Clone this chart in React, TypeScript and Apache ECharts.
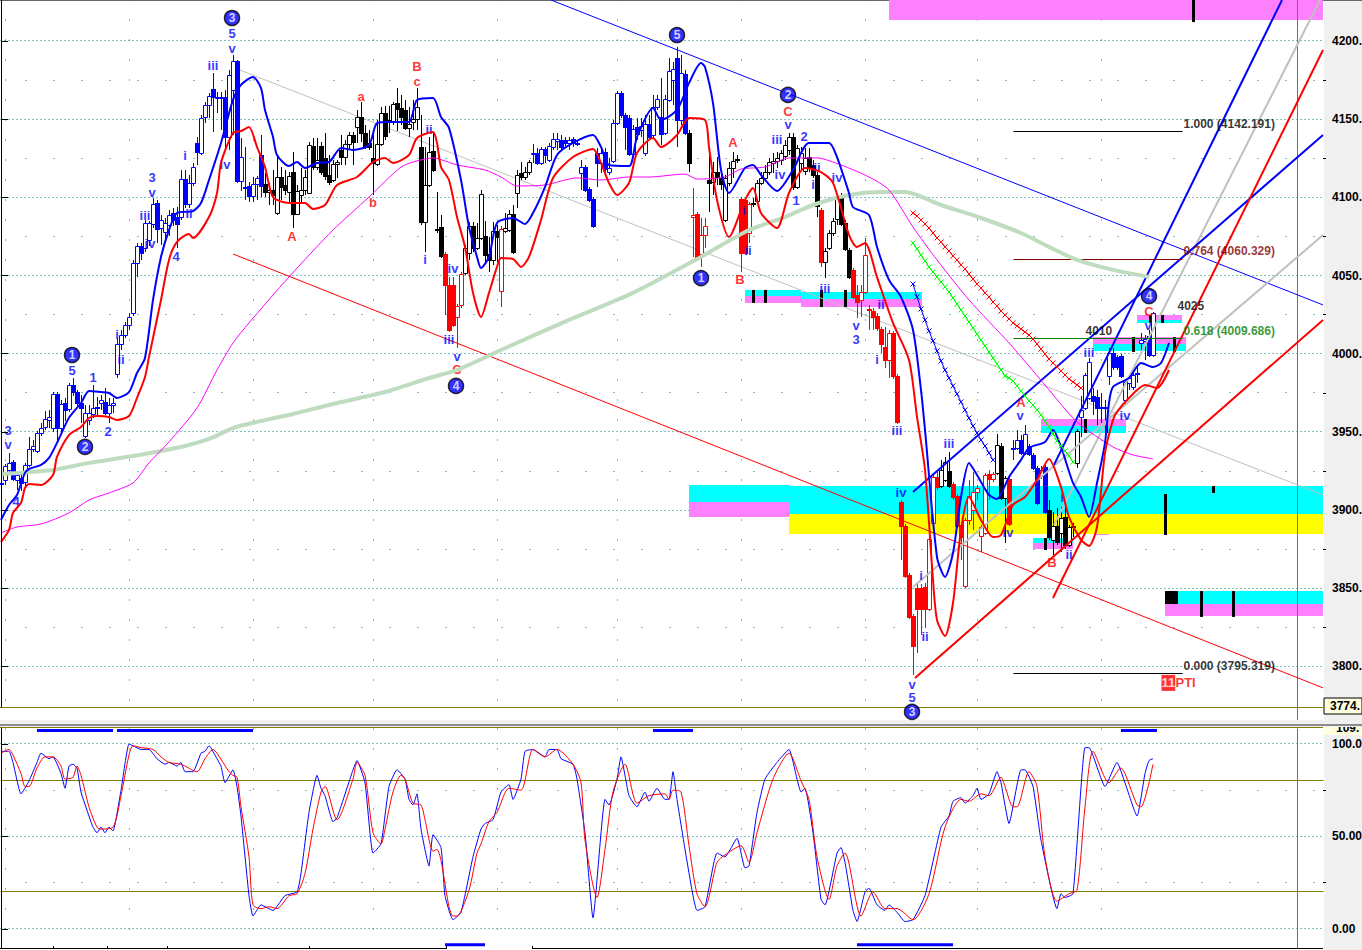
import React, { useEffect, useRef } from "react";
import * as echarts from "echarts";

const BLUE = "#0000ff", RED = "#ff0000", BLACK = "#000000", MAGENTA = "#ff00ff", SAGE = "#c0dcc0", GREY = "#c0c0c0";
const CYAN = "#00ffff", YELLOW = "#ffff00", PINK = "#ff80ff", OLIVE = "#808000", TEAL = "#008080", LIME = "#00ff00";
const FONT = "'Liberation Sans', Arial, sans-serif";

// [body top, body bottom, high, low, hollow]
const candleRows: number[][] = [
[3917.6,3917.2,3920,3915.4,0],[3928.2,3919.3,3929.5,3916,1],[3930.2,3925.7,3936.6,3924.4,1],[3930.8,3920,3932.1,3918.7,0],[3922.5,3919.3,3923.8,3913,1],
[3920.6,3917.4,3923.8,3912.3,0],[3928.9,3918,3930.2,3914.8,1],[3939.1,3928.9,3946.8,3927.6,1],[3941,3939.1,3944.9,3937.2,1],[3949.3,3937.8,3950.6,3936.6,1],
[3952.5,3949.3,3955.7,3947.4,1],[3958.3,3953.2,3963.4,3951.3,1],[3959.6,3957.7,3964,3952.5,1],[3974.3,3952.5,3975.5,3950,1],[3974.3,3952.5,3975.5,3943,0],
[3967.9,3952.5,3970.4,3950,1],[3968.5,3964,3971.7,3957,0],[3980,3964.7,3981.3,3962.8,1],[3980,3975.5,3984.5,3973,0],[3975.5,3968.5,3976.8,3966.6,0],
[3968.5,3965.3,3973.6,3955.7,0],[3962.1,3947.4,3967.2,3946.1,1],[3962.1,3957.7,3967.2,3954.4,1],[3965.3,3961.5,3980,3959,1],[3966,3965.3,3972.3,3960.8,0],
[3970.4,3968.5,3973.6,3964,1],[3969.2,3962.1,3978.1,3960.8,0],[3967.2,3962.1,3971.7,3955.7,1],[3968.5,3967.2,3971.7,3962.1,1],[4006.2,3987,4010,3984.5,1],
[4012,4006.2,4015.2,4002.4,1],[4018.4,4012,4020.3,4010,1],[4023.5,4018.4,4026,4015.2,1],[4058,4026,4060,4024.1,1],[4068.9,4058,4070.8,4049.1,1],
[4068.9,4064.4,4070.8,4060,0],[4083.6,4067.6,4085.5,4065,1],[4083.6,4072.7,4084.9,4068.9,1],[4095.8,4083,4099.6,4080.4,1],[4096.4,4079.8,4098.3,4070.8,0],
[4085.5,4080.4,4088.7,4069.5,1],[4083.6,4077.9,4086.8,4072.7,1],[4088.7,4082.3,4091.9,4075.3,1],[4090,4085.5,4093.2,4081.7,0],[4087.4,4083,4093.8,4067.6,0],
[4111.7,4087.4,4117.5,4085.5,1],[4111.7,4095.8,4117.5,4093.2,0],[4109.2,4095.8,4114.3,4093.2,1],[4119.4,4109.2,4122,4107.3,1],[4134.8,4129,4138.6,4120.7,0],
[4150.8,4128.4,4152.7,4127.1,1],[4159,4151.4,4161,4147.5,1],[4164.8,4159,4166.7,4150.8,1],[4169.3,4164.2,4179.5,4141.8,0],[4164.2,4163.5,4167.4,4154,1],
[4164.2,4163.5,4167.4,4143,1],[4164.2,4138.6,4168.7,4131.5,0],[4178.2,4138.6,4181.4,4130.3,1],[4187.2,4168.7,4191,4140,1],[4187.2,4110.5,4187.8,4109.2,0],
[4125.8,4110.5,4138,4104,1],[4106.4,4105.8,4132.2,4098.3,0],[4107.2,4100.9,4109.8,4097,0],[4108.5,4100.9,4113,4097,1],[4112.4,4108.5,4113.7,4098.3,1],
[4127.1,4107.3,4139.9,4100.2,0],[4108.5,4103.4,4115.6,4100.2,0],[4104.7,4103.4,4109.2,4095.1,1],[4104.7,4101.5,4117.5,4095.1,0],[4113,4090,4125.8,4088.7,1],
[4113,4106.6,4119.4,4098.3,0],[4107.9,4104.7,4117.5,4101.5,0],[4113.7,4103.4,4116.2,4097,1],[4116.2,4089.4,4129,4080.4,0],[4104,4089.4,4107.9,4088.7,1],
[4104.7,4101.5,4118.8,4096.4,1],[4113,4104.7,4117.5,4101.5,1],[4133.5,4102.8,4135.4,4102.2,1],[4132.8,4119.4,4138,4117.5,0],[4123.9,4119.4,4138,4117.5,1],
[4132.8,4116.2,4135.4,4114.3,0],[4125.2,4113.7,4141.2,4111,0],[4114.3,4109.8,4127.1,4107.9,0],[4121.3,4111,4123.9,4109.8,1],[4122.6,4121.3,4123.9,4112.4,1],
[4130.3,4125.8,4139.9,4120.7,0],[4134.1,4125.8,4136.7,4120.7,1],[4139.9,4134.1,4141.8,4130.3,1],[4139.9,4135.4,4141.8,4120.7,0],[4151.4,4145,4155.9,4134.8,1],
[4151.4,4141.2,4161,4135.4,0],[4141.2,4132.2,4146.3,4130.9,0],[4134.8,4132.2,4143,4130.3,0],[4125.2,4122,4141.2,4101.5,0],[4134.1,4121.3,4149.5,4120,1],
[4154,4134.1,4157.8,4132.8,1],[4154,4139.3,4158.4,4136.7,0],[4149.5,4148.2,4158.4,4141.2,1],[4159.7,4148.2,4161,4146.3,1],[4160.3,4156.5,4169.9,4142.4,0],
[4157.1,4151.4,4165.5,4146.3,0],[4155.9,4144.4,4162.3,4143,0],[4146.9,4144.4,4157.8,4138.6,1],[4150.1,4148.2,4162.3,4143,1],[4157.8,4150.1,4169.9,4143,1],
[4132.2,4084.3,4152.7,4082.3,0],[4107.9,4084.3,4132.2,4065,1],[4129,4107.9,4138.6,4106.6,1],[4129.7,4117.5,4141.2,4116.2,0],[4079.8,4079.2,4103.4,4077.2,0],
[4081,4062.5,4088.7,4061.2,0],[4063.8,4044,4065,4024.8,0],[4044,4015.2,4049,4013.9,0],[4044,4018.4,4049,4017.1,0],[4030.5,4023.5,4031.8,4003.7,1],
[4051,4031.2,4052.3,4029.3,1],[4067.6,4051.6,4069.5,4050.4,1],[4081.7,4064.4,4084.3,4060,1],[4081.7,4067.6,4084.3,4065,0],[4074,4067.6,4083.6,4066.3,1],
[4102.2,4074,4104.7,4072.7,1],[4075.3,4063.1,4084.9,4058,0],[4063.8,4060,4074.7,4052.3,0],[4078.5,4060,4084.3,4056.8,1],[4078.5,4074.7,4082.3,4058.7,0],
[4079.8,4040.1,4081.7,4029.9,1],[4080.4,4078.5,4090,4077.2,1],[4089.4,4079.2,4091.9,4077.9,1],[4089.4,4065,4095.1,4063.8,0],[4114.3,4102.8,4117.5,4093.2,1],
[4115.6,4113,4122.6,4111,0],[4116.2,4113,4119.4,4111,1],[4122.6,4116.2,4123.9,4114.3,1],[4128.4,4127.7,4134.1,4122,1],[4128.4,4122,4131.6,4120.7,0],
[4130.9,4122,4132.2,4120.7,1],[4130.9,4127.1,4132.2,4122,0],[4132.8,4123.9,4134.8,4122.6,1],[4137.3,4132.2,4141.2,4130.3,1],[4137.3,4136,4141.2,4130.3,1],
[4136.7,4132.2,4139.9,4130.3,0],[4136.7,4134.8,4138.6,4132.2,0],[4136.7,4134.8,4138.6,4130.3,1],[4137.3,4134.8,4138.6,4132.2,0],[4134.8,4134.4,4136.7,4132.8,0],
[4119.4,4115.6,4123.9,4104.7,1],[4119.4,4104.7,4120.7,4103.4,0],[4105.3,4098.3,4106.6,4097,0],[4098.9,4081.7,4100.2,4080.4,0],[4128.4,4122,4131.6,4106.6,0],
[4128.4,4122,4132.2,4115.6,1],[4129,4118.1,4131.6,4116.2,0],[4118.8,4116.2,4125.2,4114.3,1],[4147.5,4123.3,4149.5,4122,1],[4166.7,4147.5,4168,4146.3,1],
[4166.7,4152.7,4168,4150.8,0],[4152.7,4145,4154,4130.3,0],[4150.8,4127.7,4152.7,4126.4,0],[4143.7,4127.7,4146.3,4126.4,1],[4145,4140.5,4150.8,4136.7,0],
[4145.6,4143,4150.8,4138.6,1],[4146.9,4128.4,4152.7,4126.4,1],[4146.9,4138.6,4152.7,4136.7,0],[4157.8,4139.9,4165.5,4138,1],[4162.9,4157.8,4165.5,4155.9,1],
[4151.4,4140.5,4176.3,4133.5,0],[4162.9,4141.2,4165.5,4139.9,1],[4180.8,4162.3,4189.1,4161,1],[4182.1,4175,4186.6,4159,1],[4189.1,4149.5,4196.1,4132.2,0],
[4179.5,4149.5,4191,4146.3,1],[4178.9,4141.2,4181.4,4139.9,0],[4141.2,4122,4143,4116.2,0],[4088.7,4087.4,4106,4061.9,1],[4089.4,4061.9,4090.6,4061.2,0],
[4075.9,4063.8,4086.8,4055.5,1],[4081.7,4075.9,4086.8,4067.6,1],[4111,4109.2,4127.1,4090.6,0],[4116.2,4109.8,4122.6,4101.5,1],[4116.2,4113,4125.8,4107.9,0],
[4112.4,4108.5,4117.5,4104.7,0],[4112.4,4085.5,4114.3,4084.3,1],[4118.8,4109.2,4122.6,4107.3,1],[4123.3,4118.8,4129,4112.4,1],[4124.6,4124,4127.1,4122,0],
[4098.9,4064.4,4100.2,4052.3,0],[4098.3,4064.4,4099.6,4063.1,0],[4095.8,4077.2,4097,4070.8,1],[4096.4,4095.8,4099.6,4093.8,0],[4109.2,4097.7,4111,4096.4,1],
[4112.4,4109.2,4116.2,4107.9,1],[4116.2,4112.4,4120.7,4111,1],[4122.6,4116.2,4125.2,4114.3,1],[4123.3,4122,4128.4,4115.6,1],[4125.2,4123.3,4129,4118.8,1],
[4128.4,4123.9,4130.3,4120.7,1],[4133.5,4126.4,4136.7,4123.9,1],[4138.6,4130.3,4141.2,4127.1,1],[4138.6,4106.6,4141.2,4104.7,0],[4131.6,4106.6,4133.5,4105.3,1],
[4128.4,4122,4132.2,4117.5,1],[4125.2,4116.9,4131.6,4114.3,1],[4125.8,4119.4,4131.6,4116.2,0],[4120.7,4114.3,4123.9,4112.4,0],[4114.3,4094.5,4116.2,4087.4,0],
[4091.9,4058.7,4093.2,4055.5,0],[4065.7,4058.7,4067.6,4048.4,1],[4077.2,4067.6,4079.2,4066.3,1],[4084.9,4077.2,4086.8,4075.3,1],[4099.6,4086.2,4101.5,4082.3,1],
[4099.6,4083,4102.8,4081.7,0],[4083.6,4067,4085.5,4065.7,0],[4066.3,4049.1,4067.6,4047.8,0],[4053.6,4036.3,4054.8,4035,0],[4037.6,4033.1,4044,4022.9,0],
[4039.5,4034.4,4044,4023.5,1],[4063.1,4039.5,4074,4038.2,1],[4028.6,4028,4031.2,4015.2,0],[4027.3,4023.5,4029.3,4015.2,0],[4024.1,4016.5,4026,4014.6,0],
[4015.8,4006.2,4017.1,4000.5,0],[4004.3,3996,4017.1,3990.9,0],[4013.3,3996,4015.2,3984.5,1],[4013.3,3985.8,4014.6,3983.9,0],[3985.8,3956.4,3987,3955.1,0],
[3905.2,3889.9,3906.5,3868.1,0],[3889.9,3857.9,3891.1,3856.6,0],[3858.5,3831.7,3859.8,3830.4,0],[3832.3,3813,3833.6,3794.6,0],[3850.2,3836.8,3853.4,3808.7,0],
[3850.2,3836.8,3853,3820,0],[3850.9,3836.8,3853.4,3824.7,0],[3881.6,3836.8,3882.8,3835.6,1],[3921.2,3891.8,3922.5,3890.5,1],[3921.2,3914.8,3924.4,3912.9,0],
[3925.7,3915.4,3932.1,3914.2,1],[3930.8,3919.3,3934,3918,1],[3925,3915.4,3937.2,3914.2,0],[3916.7,3908.4,3918,3906.5,0],[3909,3889.9,3910.3,3888.6,0],
[3890.5,3882.8,3892.4,3868.1,0],[3893.7,3851.5,3895,3850.2,1],[3909,3893.7,3919.3,3890.5,1],[3911.6,3900.1,3924.4,3887.3,1],[3914.2,3911.6,3916.1,3906.5,1],
[3889.2,3883.5,3890.5,3873.3,1],[3922.5,3885.4,3923.8,3884.1,1],[3923.1,3919.9,3925.7,3906.5,0],[3923.1,3919.9,3924.4,3918,1],[3941.7,3923.8,3948.7,3922.5,1],
[3941,3907.8,3943,3906.5,0],[3920.6,3907.8,3921.8,3879,1],[3919.9,3891.1,3921.2,3889.9,0],[3939.8,3939.4,3944.9,3932.1,0],[3944.9,3939.8,3951.2,3938.5,1],
[3944.9,3936.6,3948.1,3935.3,0],[3948.7,3936.6,3954.4,3935.3,1],[3941,3935.9,3942.3,3934.6,0],[3935.3,3926.9,3936.6,3925.7,0],[3926.9,3904.6,3928.2,3903.3,0],
[3925.7,3921.8,3928.2,3919.9,1],[3927.6,3898.8,3928.9,3897.5,0],[3900.1,3882.8,3906.5,3881,0],[3889.9,3880.9,3898.8,3871.3,1],[3889.9,3879.6,3901.4,3877.7,0],
[3895,3885.4,3902,3873.3,1],[3895.6,3877.7,3903.3,3875.2,0],[3889.2,3877.7,3890.5,3876.4,1],[3889.9,3889.2,3891.8,3882.8,1],[3950.6,3930.2,3951.9,3927,1],
[3964,3959.6,3973,3946.8,1],[3986.4,3965.3,3987.7,3964,1],[3994.7,3971.7,3997.3,3970.4,1],[3973,3969.8,3978.1,3960.8,0],[3972.3,3965.3,3976.8,3954.4,0],
[3966,3965.5,3974.9,3955.7,0],[3966,3965.5,3970.4,3956.4,0],[4000.5,3985.8,4003.7,3980,1],[4000.5,3991.5,4003.7,3989.6,0],[3997.9,3991.5,3999.2,3989.6,0],
[3998.6,3985.8,3999.8,3984.5,0],[3982,3970.4,3983.2,3967.2,1],[3984.5,3981.3,3986.4,3976.8,1],[3986.4,3978.7,3989.6,3976.8,1],[3987.7,3987.2,3991.5,3981.3,0],
[4008.8,4006.9,4013.3,4002.4,1],[4009.4,4008.2,4012,3996,1],[4011.4,3999.2,4015.2,3998,0],[4026,3999.2,4026.6,3998,1],
];
const colorRuns: [string, number][] = [
  [BLUE,66],[BLACK,45],[RED,5],[BLACK,9],[RED,1],[BLACK,7],[BLUE,39],[BLACK,1],[RED,4],[BLACK,8],[RED,3],[BLACK,17],[RED,1],[BLACK,7],[RED,22],[BLACK,3],[RED,11],[BLACK,3],[RED,1],[BLUE,9],[BLACK,8],[BLUE,19],
];

const upperBlue: number[][] = [[0,3893.7],[2,3903.3],[4,3909.7],[5,3916.7],[6,3923.8],[7,3926.3],[10,3928.9],[12,3933.4],[14,3943],[17,3959],[20,3968.5],[22,3976.2],[25,3975.5],[27,3974.9],[29,3971.7],[32,3975.5],[34,3987.7],[36,3997.3],[38,4034.4],[40,4061.9],[42,4079.1],[44,4090],[48,4091.3],[50,4096.4],[52,4111.1],[55,4134.8],[58,4162.3],[60,4171.9],[63,4177],[65,4169.9],[66,4155.9],[68,4138.6],[69,4127.1],[72,4120],[74,4122.6],[76,4118.8],[79,4122],[82,4122.6],[85,4131.6],[88,4130.3],[92,4133.5],[94,4147.5],[97,4148.2],[102,4148.2],[104,4162.3],[108,4163.5],[110,4151.4],[112,4144.4],[115,4111.1],[117,4081],[119,4061.9],[120,4054.8],[122,4061.9],[124,4083.6],[128,4086.8],[131,4083],[133,4090],[136,4106.6],[139,4127.1],[143,4134.8],[148,4139.9],[150,4132.2],[152,4120.7],[157,4120],[159,4138.6],[163,4157.1],[165,4149.5],[169,4155.9],[172,4173.1],[175,4185.9],[176,4183.4],[178,4160.3],[180,4117.5],[182,4102.8],[186,4118.8],[188,4120.7],[190,4114.3],[194,4104.1],[198,4117.5],[202,4134.8],[207,4134.8],[209,4125.8],[212,4102.8],[213,4093.8],[217,4088.7],[219,4068.3],[222,4047.2],[225,4036.3],[228,4015.2],[230,3976.8],[231,3951.3],[234,3870],[236,3857.3],[238,3872.6],[240,3908.4],[242,3930.2],[244,3922.5],[247,3909.7],[249,3907.1],[252,3921.2],[255,3932.1],[257,3939.8],[261,3943.6],[263,3951.3],[265,3940.4],[268,3917.4],[270,3908.4],[272,3895.6],[274,3917.4],[276,3943],[277,3968.5],[278,3978.8],[282,3984.5],[285,3994.1],[288,3991.5],[290,3994.1],[292,4006.9]];
const upperRed: number[][] = [[0,3879.6],[2,3887.3],[3,3898.2],[5,3904.6],[6,3914.2],[7,3916.7],[10,3916.1],[13,3922.5],[14,3934],[17,3948],[20,3953.2],[22,3958.9],[24,3960.2],[27,3959.6],[29,3957.7],[32,3960.2],[34,3971.7],[36,3985.1],[37,3997.9],[40,4034.4],[42,4060],[44,4071.5],[47,4076.6],[48,4074],[52,4087.4],[54,4102.8],[55,4122],[58,4141.2],[60,4142.4],[62,4145],[64,4132.2],[66,4119.4],[68,4100.2],[72,4096.4],[76,4096.4],[78,4092.6],[81,4095.1],[84,4107.9],[89,4113],[93,4122.6],[96,4125.2],[98,4122],[102,4127.1],[104,4138],[108,4141.8],[109,4134.8],[110,4119.4],[112,4111.1],[114,4087.4],[116,4068.3],[118,4038.9],[120,4023.5],[122,4038.9],[124,4055.5],[125,4061.2],[128,4060.6],[130,4055.5],[132,4061.9],[135,4085.5],[138,4112.4],[143,4125.8],[148,4130.9],[150,4122],[152,4109.2],[154,4101.5],[157,4109.2],[159,4128.4],[163,4138],[165,4132.2],[169,4139.9],[172,4150.8],[176,4149.5],[177,4132.2],[179,4098.3],[182,4074.7],[186,4098.3],[188,4106],[190,4090],[194,4080.4],[197,4102.8],[201,4118.8],[205,4116.2],[208,4109.2],[212,4076],[214,4068.3],[216,4070.8],[219,4049],[223,4019.7],[227,3996],[229,3959.6],[231,3925.7],[233,3855.3],[234,3829.8],[236,3819.5],[238,3840.6],[240,3887.3],[242,3908.4],[245,3893.7],[248,3882.8],[250,3884.1],[253,3903.3],[256,3908.4],[259,3919.3],[262,3932.7],[265,3914.8],[267,3895.6],[270,3881],[272,3877.1],[274,3889.2],[276,3936.6],[278,3957.7],[279,3962.8],[282,3971.7],[286,3980],[289,3978.1],[292,3989.6]];
const upperMagenta: number[][] = [[0,3885.4],[4,3889.2],[10,3891.1],[17,3898.2],[22,3906.5],[27,3911],[33,3917.4],[37,3930.2],[42,3943.6],[49,3965.3],[54,3989.6],[58,4006.9],[62,4019.7],[72,4049.1],[83,4079.1],[92,4100.2],[100,4119.4],[104,4123.3],[108,4125.2],[114,4120.7],[121,4117.5],[125,4113],[129,4107.3],[136,4107.9],[144,4112.4],[150,4111.1],[157,4113],[162,4113],[171,4114.9],[174,4111.7],[181,4113],[185,4118.1],[191,4119.4],[197,4125.2],[204,4125.2],[210,4120.7],[217,4113],[222,4104.7],[228,4081],[234,4060],[242,4034.4],[252,4006.9],[261,3980],[269,3956.4],[278,3940.4],[283,3935.3],[288,3932.7]];
const upperSage: number[][] = [[0,3923.1],[13,3925.7],[22,3930.2],[33,3934.6],[45,3940.4],[52,3945.5],[58,3952.5],[64,3956.4],[73,3961.5],[83,3967.9],[96,3975.5],[107,3984.5],[114,3989.6],[125,4002.4],[142,4021.6],[158,4038.9],[175,4061.9],[187,4079.1],[196,4087.4],[203,4095.1],[212,4101.5],[220,4103.4],[226,4103.4],[235,4095.1],[245,4086.8],[255,4077.2],[262,4068.3],[269,4060],[278,4053.6],[287,4049.1]];

const crossStart = 228;
const crossRed = [4090,4088.1,4085.5,4083,4080.4,4077.2,4074,4071.5,4068.3,4065.7,4062.5,4060,4056.8,4054.2,4051,4047.8,4044.6,4042,4038.9,4036.3,4033.1,4030.5,4027.3,4024.8,4022.2,4019.7,4017.8,4015.8,4013.9,4012,4009.4,4006.2,4003,3999.8,3996.6,3994.1,3991.5,3989,3986.4,3983.9,3982,3980,3978.1];
const crossGreen = [4070.8,4067,4063.1,4059.3,4055.5,4052.3,4049.1,4045.9,4042.7,4039.5,4035.7,4031.8,4028,4024.1,4020.3,4016.5,4012.6,4008.8,4005,4001.1,3997.3,3993.5,3989.6,3985.8,3984.5,3982.6,3979.4,3976.2,3973,3969.8,3967.2,3964,3960.8,3957,3953.2,3948.7,3944.2,3941,3937.8,3934.6,3930.8];
const crossBlue = [4044.6,4036.3,4028.6,4021.6,4014.6,4008.2,4001.8,3995.4,3989.6,3984.5,3979.4,3974.3,3969.2,3964,3958.9,3953.8,3949.3,3944.9,3941,3936.6,3932.1];

const stochBlue: number[][] = [[0,96],[2,96],[3,90],[5,73],[7,80],[9,90],[10,95],[12,92],[13,93],[15,84],[16,76],[17,88],[18,89],[19,87],[20,74],[22,61],[23,55],[24,52],[25,55],[26,52],[27,55],[28,53],[30,75],[32,100],[33,99],[35,97],[37,97],[39,92],[41,89],[42,90],[44,88],[45,90],[46,85],[48,85],[50,95],[51,96],[52,99],[54,92],[55,88],[56,79],[58,86],[59,77],[60,61],[62,18],[63,7],[65,13],[68,10],[71,18],[74,20],[75,30],[77,63],[79,83],[80,76],[81,72],[83,58],[84,60],[88,86],[89,91],[91,79],[93,41],[95,46],[97,77],[99,86],[101,81],[102,70],[103,67],[104,73],[105,54],[107,34],[108,51],[110,44],[111,18],[113,5],[115,9],[118,39],[120,54],[121,57],[123,59],[125,74],[127,78],[128,70],[130,81],[131,96],[133,97],[136,93],[137,97],[139,97],[140,92],[143,89],[144,81],[146,52],[148,6],[151,70],[152,67],[154,81],[155,93],[157,72],[159,66],[161,74],[162,69],[164,76],[166,70],[167,70],[168,85],[169,70],[171,43],[173,18],[174,10],[176,12],[179,41],[181,39],[184,49],[186,33],[187,34],[189,63],[191,81],[194,90],[197,97],[199,81],[200,74],[201,76],[203,52],[205,16],[206,13],[209,41],[210,44],[211,36],[213,10],[214,4],[216,20],[217,22],[219,13],[221,10],[222,13],[224,9],[226,4],[228,5],[231,18],[235,55],[237,61],[238,69],[240,71],[241,68],[243,72],[244,76],[245,70],[247,73],[249,85],[250,79],[252,57],[255,86],[256,86],[258,77],[260,48],[264,11],[265,19],[266,17],[268,19],[271,98],[272,98],[276,77],[279,90],[281,79],[284,61],[286,84],[287,91],[288,92]];
const stochRed: number[][] = [[0,95],[2,97],[3,94],[5,84],[6,77],[7,77],[9,87],[11,93],[13,93],[15,88],[16,81],[18,82],[19,88],[20,83],[22,66],[24,55],[25,54],[28,55],[30,72],[32,94],[33,99],[35,98],[38,97],[40,93],[42,90],[45,89],[49,85],[51,92],[53,97],[54,95],[57,85],[58,83],[59,82],[60,66],[62,39],[63,13],[65,11],[67,12],[69,11],[72,18],[74,19],[76,30],[78,54],[80,74],[81,77],[84,59],[88,81],[89,90],[91,83],[93,52],[95,46],[96,54],[98,74],[100,83],[101,81],[103,68],[105,67],[106,59],[108,42],[109,43],[110,37],[112,12],[113,7],[114,7],[117,21],[119,41],[120,46],[122,58],[124,63],[127,76],[130,75],[133,97],[136,93],[139,97],[143,89],[145,79],[146,48],[149,17],[151,43],[153,74],[156,89],[159,68],[162,72],[166,73],[167,70],[168,75],[170,74],[172,45],[174,19],[176,12],[179,36],[181,40],[185,45],[187,36],[189,52],[193,81],[197,95],[200,80],[202,70],[204,39],[207,16],[209,34],[211,41],[215,7],[218,20],[221,11],[224,11],[228,5],[232,19],[236,55],[240,70],[242,69],[245,73],[247,72],[250,82],[251,77],[253,66],[254,66],[257,85],[259,77],[261,39],[264,15],[267,19],[269,21],[271,66],[273,96],[277,79],[280,87],[281,84],[284,67],[285,66],[288,89]];

// [name, start bar, start price, end bar, end price]
const thinTrends: [string, number, number, number, number][] = [
  [BLUE,137.5,4226.2,330.5,4031.2],[RED,58,4063.8,330.5,3786.3],[GREY,59.75,4181.4,330.5,3909.7],
];
const thickTrends: [string, number, number, number, number][] = [
  [GREY,228,3850.9,330.5,4075.9],[GREY,263.25,3890.5,329.75,4226.2],[BLUE,228,3911.6,330.5,4139.9],[BLUE,263.25,3928.9,320.25,4226.2],[RED,228.5,3792.7,330.5,4021.6],[RED,263,3843.8,330.5,4194.2],
];
const fibLevels: [string, number, string][] = [
  ["1.000",4142.191,BLACK],["0.764",4060.329,"#800000"],["0.618",4009.686,"#008000"],["0.000",3795.319,BLACK],
];
const fibLabelPrices = [4146.9,4065.7,4014.6,3800.4];

// [start bar, end bar, top price, bottom price, colour]
const zones: [number, number, number, number, string][] = [
  [222,330.5,4226.2,4213.4,PINK],
  [172,197,3916.1,3905.2,CYAN],[172,197,3905.2,3895.6,PINK],[197,330.5,3915.4,3897.5,CYAN],[197,330.5,3897.5,3884.8,YELLOW],
  [291,294.25,3848.3,3840,BLACK],[294.25,330.5,3848.3,3840,CYAN],[291,330.5,3840,3832.3,PINK],
  [186,200,4040.8,4037,CYAN],[186,200,4037,4032.5,PINK],[200,230.25,4039.5,4035,CYAN],[200,230.25,4035,4029.9,PINK],
  [260,281.25,3958.3,3953.8,PINK],[260,281.25,3953.8,3949.3,CYAN],
  [273,296.25,4010.7,4006.2,PINK],[273,296.25,4006.2,4001.8,CYAN],
  [284,295.25,4024.8,4021.6,PINK],[284,295.25,4021.6,4019.7,CYAN],
  [258,268,3882.2,3879,CYAN],[258,268,3879,3875.2,PINK],[273.75,277,3884.8,3884.2,PINK],
];
// [bar, top price, bottom price]
const zoneTicks: number[][] = [
  [298,4226.2,4212.1],[291,3910.3,3884.1],[303,3915.4,3911],[300,3848.3,3831.7],[308,3848.3,3831.7],
  [188,4040.8,4032.5],[191,4040.8,4032.5],[205,4040.8,4029.9],[211,4040.8,4029.9],
  [271,3958.3,3949.3],[276.25,3958.3,3949.3],[283,4010.7,4001.1],[293.25,4010.7,4001.1],
  [287.25,4024.8,4019.7],[290.25,4024.8,4019.7],[261,3882.2,3874.5],
];

const waveCircles: [string, number, number][] = [
  ["1",17.75,3999.2],["2",21,3940.4],["3",57.75,4214.7],["4",113.75,3979.4],["5",169,4203.8],["1",175,4048.4],["2",196.75,4165.5],["3",227.75,3771],["4",287,4036.9],
];
const blueLabels: [string, number, number][] = [
  ["3",1.75,3950.6],["v",1.75,3941.7],["4",3.75,3905.2],["5",17.75,3989],["1",23,3985.1],["2",26.75,3950],["3",37.75,4112.4],["v",37.75,4103.4],["iii",36,4088.1],["iv",37.25,4070.2],["4",43.75,4061.9],["i",46,4126.5],["ii",47,4089.4],["i",29,4012],["ii",30,3996],["iii",53,4184.6],["5",57.75,4204.5],["v",57.75,4195.5],["iv",56,4120.7],["ii",107,4143.7],["i",106,4060],["iv",113,4054.2],["iii",112,4008.8],["v",114,3998],["iii",194,4136.7],["v",196.75,4146.3],["2",200.75,4139.2],["iv",194.75,4114.3],["1",198.75,4098.3],["i",185.75,4091.9],["ii",186.75,4066.3],["iii",206,4042],["ii",204,4119.4],["i",203,4107.9],["iv",209,4113],["v",213.75,4017.8],["3",213.75,4008.8],["ii",220,4031.2],["i",219,3996],["iii",224,3950.6],["iv",225,3911],["iii",237,3942.3],["i",230,3858.5],["ii",231,3818.9],["v",227.75,3788.8],["5",227.75,3779.9],["iv",251.75,3886],["i",265.25,3907.8],["ii",267,3871.3],["v",254.75,3960.2],["iii",272,4000.5],["iv",281,3960.8],["v",286.75,4017.8],
];
const redLabels: [string, number, number][] = [
  ["A",72.75,4074.7],["a",90,4164.8],["b",93,4096.4],["B",104,4183.4],["c",104,4174.4],["C",114,3989.6],["A",183,4134.8],["B",184.75,4047.2],["C",196.75,4155.2],["A",255,3968.5],["B",262.75,3866.2],["C",287,4026.7],
];

const priceTicks = [4200,4150,4100,4050,4000,3950,3900,3850,3800];
const priceMinor = [4175,4125,4075,4025,3975,3925,3875,3825];
const stochTicks = [100,50,0];
const stochMinor = [75,25];
const stochLevels = [80,20];
const gridBars = [1,32,63,93,124,154,185,216,244,275];
const cursorBar = 324;
const topSignals = [[9,28],[29,63],[163,173],[280,289]];
const bottomSignals = [[111,121],[214,238]];

const PRICE_MIN = 3774.1, PRICE_MAX = 4226.2, STOCH_MIN = -10.3, STOCH_MAX = 108.6, BAR_MIN = -0.25, BAR_MAX = 330.5;

function segments(id: number, rows: any[], color: string, width: number, dash?: number[], snap = false): any {
  return {
    type: "custom", xAxisIndex: id, yAxisIndex: id === 0 ? 0 : 2, silent: true, clip: false,
    data: rows, encode: { x: [0, 2], y: [1, 3] },
    renderItem: (_: any, api: any) => {
      const a = api.coord([api.value(0), api.value(1)]);
      const b = api.coord([api.value(2), api.value(3)]);
      const fix = (v: number) => (snap ? Math.floor(v) + 0.5 : v);
      return {
        type: "line",
        shape: { x1: fix(a[0]), y1: fix(a[1]), x2: fix(b[0]), y2: fix(b[1]) },
        style: { stroke: color, lineWidth: width, lineDash: dash, fill: null },
      };
    },
  };
}

function textLayer(rows: any[], color: string, font: any): any {
  return {
    type: "scatter", xAxisIndex: 0, yAxisIndex: 0, clip: false, silent: true, symbolSize: 1,
    itemStyle: { color: "transparent" }, data: rows.map((r) => [r[1], r[2], r[0]]),
    label: { show: true, position: "inside", color, fontFamily: FONT, formatter: (p: any) => p.data[2], ...font },
  };
}

function lineLayer(data: number[][], color: string, width: number, axis = 0, smooth: any = 0.25): any {
  return {
    type: "line", xAxisIndex: axis, yAxisIndex: axis === 0 ? 0 : 2, data, symbol: "none", smooth, silent: true,
    lineStyle: { color, width },
  };
}

function crossLayer(values: number[], color: string): any {
  return {
    type: "line", xAxisIndex: 0, yAxisIndex: 0, silent: true, symbol: "path://M0 0L10 10M10 0L0 10", symbolSize: 5, showAllSymbol: true,
    data: values.map((v, i) => [crossStart + i, v]),
    lineStyle: { color, width: 1 }, itemStyle: { color: "transparent", borderColor: color, borderWidth: 1 },
  };
}

function buildOption(): any {
  const colors: string[] = [];
  colorRuns.forEach(([c, n]) => { for (let i = 0; i < n; i++) colors.push(c); });
  const candles = candleRows.map((r, i) => [i, r[0], r[1], r[2], r[3], r[4], colors[i]]);
  const fullRow = (p: number) => [BAR_MIN, p, BAR_MAX, p];
  const gridLabelStyle = { fontFamily: FONT, fontSize: 12, fontWeight: "bold", color: "#000" };

  const yAxes = (grid: number, min: number, max: number, majors: number[], minors: number[], fmt: (v: number) => string) => [
    { type: "value", z: 20, gridIndex: grid, position: "right", min, max, splitLine: { show: false }, axisLine: { show: true, lineStyle: { color: "#000" } },
      axisTick: { show: true, length: 7, inside: false, customValues: majors, lineStyle: { color: "#000" } },
      axisLabel: { show: true, margin: 9, customValues: majors, formatter: fmt, hideOverlap: false, ...gridLabelStyle } },
    { type: "value", z: 20, gridIndex: grid, position: "right", min, max, splitLine: { show: false }, axisLine: { show: false },
      axisTick: { show: true, length: 3, customValues: minors, lineStyle: { color: "#000" } }, axisLabel: { show: false } },
  ];

  const chrome: any[] = [
    { type: "rect", shape: { x: 1324, y: 0, width: 38, height: 950 }, style: { fill: "#f0f0f0" } },
    { type: "rect", shape: { x: 0, y: 0, width: 1362, height: 1 }, style: { fill: "#666666" } },
    { type: "rect", shape: { x: 1297, y: 707, width: 1, height: 21 }, style: { fill: OLIVE } },
    { type: "rect", shape: { x: 0, y: 707, width: 1323, height: 1 }, style: { fill: OLIVE } },
    { type: "rect", shape: { x: 1324, y: 727, width: 38, height: 8 }, style: { fill: "#ffffe0" } },
    { type: "text", x: 1336, y: 728, style: { text: "109.", fill: "#000", font: `bold 12px ${FONT}`, textVerticalAlign: "middle" } },
    { type: "rect", shape: { x: 0, y: 720, width: 1362, height: 4 }, style: { fill: "#f0f0f0" } },
    { type: "rect", shape: { x: 0, y: 724, width: 1362, height: 2 }, style: { fill: "#8c8c8c" } },
    { type: "rect", shape: { x: 0, y: 726, width: 1362, height: 1 }, style: { fill: "#f0f0f0" } },
    { type: "rect", shape: { x: 0, y: 727, width: 1323, height: 1 }, style: { fill: OLIVE } },
    { type: "rect", shape: { x: 1324, y: 698, width: 38, height: 16 }, style: { fill: "#ffffe0", stroke: "#000", lineWidth: 1 } },
    { type: "text", x: 1330, y: 706, style: { text: "3774.", fill: "#000", font: `bold 12px ${FONT}`, textVerticalAlign: "middle" } },
    { type: "rect", shape: { x: 0, y: 948, width: 446, height: 1 }, style: { fill: "#000" } },
    { type: "rect", shape: { x: 532, y: 948, width: 791, height: 1 }, style: { fill: "#000" } },
    ...[53, 107, 167, 309, 446, 532].map((x) => ({ type: "rect", shape: { x, y: 946, width: 1, height: 3 }, style: { fill: "#000" } })),
  ];

  return {
    animation: false,
    backgroundColor: "#ffffff",
    tooltip: { show: false },
    legend: { show: false },
    graphic: { elements: chrome },
    grid: [
      { left: 0, top: 0, width: 1323, height: 707, outerBoundsMode: "none" },
      { left: 0, top: 728, width: 1323, height: 220, outerBoundsMode: "none" },
    ],
    xAxis: [0, 1].map((g) => ({ type: "value", gridIndex: g, min: BAR_MIN, max: BAR_MAX, show: false, splitLine: { show: false } })),
    yAxis: [
      ...yAxes(0, PRICE_MIN, PRICE_MAX, priceTicks, priceMinor, (v) => `${v}.`),
      ...yAxes(1, STOCH_MIN, STOCH_MAX, stochTicks, stochMinor, (v) => (v === 100 ? "100.0" : v === 50 ? "50.00" : "0.00")),
    ],
    series: [
      segments(0, priceTicks.map(fullRow), TEAL, 1, [1, 3], true),
      segments(0, priceMinor.map((p) => [6, p, BAR_MAX, p]), TEAL, 1, [1, 27], true),
      segments(0, gridBars.map((b) => [b, PRICE_MAX, b, PRICE_MIN]), TEAL, 1, [1, 19], true),
      segments(1, stochTicks.map(fullRow), TEAL, 1, [1, 3], true),
      segments(1, stochMinor.map((p) => [6, p, BAR_MAX, p]), TEAL, 1, [1, 27], true),
      segments(1, gridBars.map((b) => [b, STOCH_MAX, b, STOCH_MIN]), TEAL, 1, [1, 19], true),
      segments(1, stochLevels.map(fullRow), OLIVE, 1, undefined, true),
      {
        type: "custom", xAxisIndex: 0, yAxisIndex: 0, silent: true, clip: true, data: zones, encode: { x: [0, 1], y: [2, 3] },
        renderItem: (p: any, api: any) => {
          const a = api.coord([api.value(0), api.value(2)]);
          const b = api.coord([api.value(1), api.value(3)]);
          return { type: "rect", shape: { x: Math.round(a[0]), y: Math.round(a[1]), width: Math.round(b[0]) - Math.round(a[0]), height: Math.round(b[1]) - Math.round(a[1]) }, style: { fill: zones[p.dataIndex][4] } };
        },
      },
      {
        type: "custom", xAxisIndex: 0, yAxisIndex: 0, silent: true, clip: false, data: zoneTicks, encode: { x: 0, y: [1, 2] },
        renderItem: (_: any, api: any) => {
          const a = api.coord([api.value(0), api.value(1)]);
          const b = api.coord([api.value(0), api.value(2)]);
          return { type: "rect", shape: { x: Math.round(a[0]) - 1, y: a[1], width: 3, height: b[1] - a[1] }, style: { fill: "#000" } };
        },
      },
      segments(0, [[cursorBar, PRICE_MAX, cursorBar, PRICE_MIN]], OLIVE, 1, undefined, true),
      segments(1, [[cursorBar, STOCH_MAX, cursorBar, STOCH_MIN]], OLIVE, 1, undefined, true),
      segments(0, thinTrends.filter((t) => t[0] === GREY).map((t) => t.slice(1)), GREY, 1),
      lineLayer(upperSage, SAGE, 4),
      lineLayer(upperMagenta, MAGENTA, 1),
      {
        type: "custom", xAxisIndex: 0, yAxisIndex: 0, silent: true, clip: true, data: candles, encode: { x: 0, y: [1, 2, 3, 4] },
        renderItem: (p: any, api: any) => {
          const row = candles[p.dataIndex];
          const cx = Math.round(api.coord([row[0], row[1]])[0]);
          const top = Math.round(api.coord([row[0], row[1]])[1]);
          const bot = Math.round(api.coord([row[0], row[2]])[1]);
          const hi = Math.round(api.coord([row[0], row[3]])[1]);
          const lo = Math.round(api.coord([row[0], row[4]])[1]);
          const color = row[6] as string;
          const hollow = row[5] === 1;
          const height = Math.max(bot - top, 1);
          return {
            type: "group",
            children: [
              { type: "line", shape: { x1: cx + 0.5, y1: hi, x2: cx + 0.5, y2: lo }, style: { stroke: color, lineWidth: 1 } },
              hollow
                ? { type: "rect", shape: { x: cx - 1.5, y: top + 0.5, width: 4, height }, style: { fill: "#ffffff", stroke: color, lineWidth: 1 } }
                : { type: "rect", shape: { x: cx - 2, y: top, width: 5, height: height + 1 }, style: { fill: color } },
            ],
          };
        },
      },
      lineLayer(upperBlue, BLUE, 2),
      lineLayer(upperRed, RED, 2),
      crossLayer(crossRed, RED),
      crossLayer(crossGreen, LIME),
      crossLayer(crossBlue, BLUE),
      segments(0, thinTrends.filter((t) => t[0] === BLUE).map((t) => t.slice(1)), BLUE, 1),
      segments(0, thinTrends.filter((t) => t[0] === RED).map((t) => t.slice(1)), RED, 1),
      ...[GREY, BLUE, RED].map((c) => segments(0, thickTrends.filter((t) => t[0] === c).map((t) => t.slice(1)), c, 2)),
      ...fibLevels.map((f) => segments(0, [[253, f[1], 295.25, f[1]]], f[2], 1, undefined, true)),
      lineLayer(stochBlue, BLUE, 1, 1, 0.15),
      lineLayer(stochRed, RED, 1, 1, 0.25),
      segments(1, topSignals.map((s) => [s[0], 107.3, s[1], 107.3]), BLUE, 3),
      segments(1, bottomSignals.map((s) => [s[0], -8.6, s[1], -8.6]), BLUE, 3),
      textLayer(blueLabels, BLUE, { fontSize: 13, fontWeight: "bold" }),
      textLayer(redLabels, RED, { fontSize: 13, fontWeight: "bold" }),
      {
        type: "scatter", xAxisIndex: 0, yAxisIndex: 0, clip: false, silent: true, symbol: "circle", symbolSize: 15,
        itemStyle: { color: BLUE, borderColor: "#000", borderWidth: 1.5 },
        data: waveCircles.map((r) => [r[1], r[2], r[0]]),
        label: { show: true, position: "inside", color: "#fff", fontFamily: FONT, fontSize: 12, fontWeight: "bold", formatter: (p: any) => p.data[2] },
      },
      ...fibLevels.map((f, i) => ({
        type: "scatter", xAxisIndex: 0, yAxisIndex: 0, clip: false, silent: true, symbolSize: 1, itemStyle: { color: "transparent" },
        data: [[295.5, fibLabelPrices[i]]],
        label: { show: true, position: "right", distance: 0, color: f[2], fontFamily: FONT, fontSize: 12, fontWeight: "bold", formatter: `${f[0]} (${f[1].toFixed(3)})` },
      })),
      {
        type: "scatter", xAxisIndex: 0, yAxisIndex: 0, clip: false, silent: true, symbolSize: 1, itemStyle: { color: "transparent" },
        data: [[271, 4014.6, "4010"], [294, 4030.5, "4025"]],
        label: { show: true, position: "right", distance: 0, color: "#000", fontFamily: FONT, fontSize: 12, fontWeight: "bold", formatter: (p: any) => p.data[2] },
      },
      {
        type: "scatter", xAxisIndex: 0, yAxisIndex: 0, clip: false, silent: true, symbolSize: 1, itemStyle: { color: "transparent" },
        data: [[290, 3789.5]],
        label: { show: true, position: "right", distance: 0, color: "#fff", backgroundColor: RED, padding: [2, 0, 1, 0], fontFamily: FONT, fontSize: 13, fontWeight: "bold", formatter: "11" },
      },
      {
        type: "scatter", xAxisIndex: 0, yAxisIndex: 0, clip: false, silent: true, symbolSize: 1, itemStyle: { color: "transparent" },
        data: [[293.5, 3789.5]],
        label: { show: true, position: "right", distance: 0, color: RED, fontFamily: FONT, fontSize: 13, fontWeight: "bold", formatter: "PTI" },
      },
    ],
  };
}

export default function App() {
  const ref = useRef<HTMLDivElement>(null);
  useEffect(() => {
    document.documentElement.style.margin = "0";
    document.documentElement.style.overflow = "hidden";
    document.body.style.margin = "0";
    document.body.style.overflow = "hidden";
    const chart = echarts.init(ref.current as HTMLDivElement, undefined, { renderer: "svg", width: 1362, height: 950 });
    chart.setOption(buildOption());
    return () => chart.dispose();
  }, []);
  return <div ref={ref} style={{ width: 1362, height: 950, overflow: "hidden", position: "absolute", left: 0, top: 0 }} />;
}
